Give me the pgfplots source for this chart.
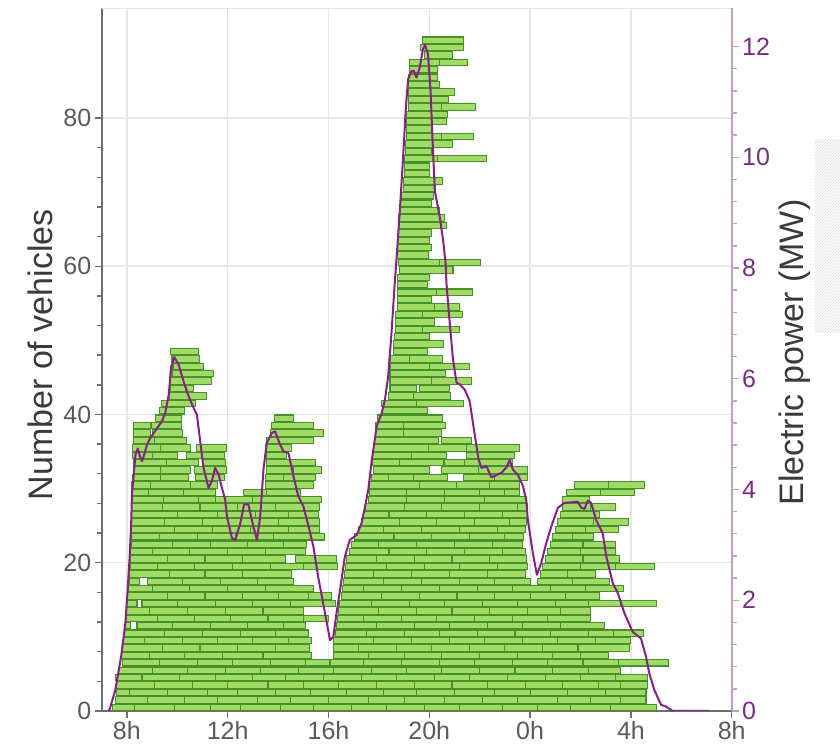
\documentclass[border=0pt]{standalone}
\usepackage{fontspec}
\setmainfont{Liberation Sans}
\usepackage{pgfplots}
\pgfplotsset{compat=1.18}
\usetikzlibrary{patterns}
\definecolor{barfill}{HTML}{A2DA66}
\definecolor{baredge}{HTML}{44922A}
\definecolor{pline}{HTML}{8B1C8B}
\definecolor{raxis}{HTML}{C49CCC}
\definecolor{rlab}{HTML}{7A2B86}
\definecolor{laxis}{HTML}{6E6E6E}
\definecolor{llab}{HTML}{5A5A5A}
\definecolor{gridc}{HTML}{E6E6E6}
\definecolor{titc}{HTML}{3A3A3A}
\pgfdeclareplotmark{emptymark}{}
\begin{document}
\begin{tikzpicture}
\useasboundingbox (-101.7pt,-38pt) rectangle (738.3pt,711pt);
\fill[pattern=north east lines, pattern color=black!15] (713.3pt,378pt) rectangle (738.3pt,571pt);
\begin{axis}[
  at={(0,0)}, anchor=south west,
  scale only axis, width=630pt, height=702.7pt,
  xmin=7, xmax=32, ymin=0, ymax=94.8,
  axis x line*=bottom, axis y line*=left,
  xtick={8,12,16,20,24,28,32},
  xticklabels={8h,12h,16h,20h,0h,4h,8h},
  ytick={0,20,40,60,80}, minor y tick num=4,
  extra y ticks={94.8}, extra y tick labels={},
  extra y tick style={major tick length=0pt, grid=major},
  grid=major, major grid style={gridc, line width=1.5pt},
  tick align=outside, major tick length=7pt, minor tick length=5pt,
  axis line style={laxis, line width=1.7pt},
  tick style={laxis, line width=1.4pt},
  ticklabel style={font=\fontsize{25}{25}\selectfont, text=llab},
  /pgf/number format/assume math mode=true,
  ylabel={Number of vehicles},
  ylabel style={font=\fontsize{34}{34}\selectfont, text=titc,
    at={(axis description cs:-0.098,0.507)}, anchor=center},
]
\addplot[
  scatter, only marks, mark=emptymark, point meta=y,
  visualization depends on={\thisrow{e}-\thisrow{s} \as \barw},
  scatter/@pre marker code/.code={%
    \path[fill=barfill, draw=baredge, line width=1.05pt]
      (axis direction cs:0,0.07) rectangle (axis direction cs:\barw,0.93);
  },
  scatter/@post marker code/.code={},
] table[x=s, y=r, row sep=\\] {
r s e\\
0 7.41 8.3\\0 8.3 9.9\\0 9.9 11.3\\0 11.3 12.5\\0 12.5 14.1\\0 14.1 15.4\\0 15.4 16.9\\0 16.9 18.3\\0 18.3 19.8\\0 19.8 21.2\\0 21.2 22.9\\0 22.9 24.3\\0 24.3 25.6\\0 25.6 27.2\\0 27.2 29.0\\
1 7.54 8.8\\1 8.8 10.3\\1 10.3 11.6\\1 11.6 13.2\\1 13.2 14.5\\1 14.5 16.0\\1 16.0 17.6\\1 17.6 19.0\\1 19.0 20.6\\1 20.6 22.1\\1 22.1 23.5\\1 23.5 25.1\\1 25.1 26.4\\1 26.4 27.6\\1 27.6 28.6\\
2 7.58 8.1\\2 8.1 9.6\\2 9.6 11.2\\2 11.2 12.4\\2 12.4 13.9\\2 13.9 15.3\\2 15.3 16.7\\2 16.7 18.2\\2 18.2 19.5\\2 19.5 21.0\\2 21.0 22.6\\2 22.6 24.0\\2 24.0 25.5\\2 25.5 27.0\\2 27.0 28.6\\
3 7.6 9.1\\3 9.1 10.6\\3 10.6 12.0\\3 12.0 13.6\\3 13.6 15.0\\3 15.0 16.4\\3 16.4 17.9\\3 17.9 19.4\\3 19.4 20.9\\3 20.9 22.3\\3 22.3 23.8\\3 23.8 25.3\\3 25.3 26.7\\3 26.7 27.6\\3 27.6 28.65\\
4 7.54 8.6\\4 8.6 10.1\\4 10.1 11.5\\4 11.5 13.0\\4 13.0 14.3\\4 14.3 15.8\\4 15.8 17.3\\4 17.3 18.7\\4 18.7 20.2\\4 20.2 21.6\\4 21.6 23.1\\4 23.1 24.6\\4 24.6 26.0\\4 26.0 27.4\\4 27.4 28.65\\
5 7.68 9.0\\5 9.0 10.4\\5 10.4 11.9\\5 11.9 13.3\\5 13.3 14.8\\5 14.8 16.2\\5 16.2 17.7\\5 17.7 19.1\\5 19.1 20.5\\5 20.5 22.0\\5 22.0 23.4\\5 23.4 24.9\\5 24.9 26.3\\5 26.3 27.6\\
6 7.81 9.3\\6 9.3 10.8\\6 10.8 12.2\\6 12.2 13.7\\6 13.7 15.1\\6 15.1 16.06\\6 16.06 17.4\\6 17.4 18.9\\6 18.9 20.4\\6 20.4 21.8\\6 21.8 23.3\\6 23.3 24.7\\6 24.7 26.1\\6 26.1 27.5\\6 27.5 29.5\\
7 7.78 8.9\\7 8.9 10.3\\7 10.3 11.8\\7 11.8 13.4\\7 13.4 15.33\\7 16.18 17.6\\7 17.6 19.0\\7 19.0 20.5\\7 20.5 22.0\\7 22.0 23.5\\7 23.5 24.9\\7 24.9 26.0\\7 26.0 27.1\\
8 7.81 9.4\\8 9.4 10.9\\8 10.9 12.4\\8 12.4 13.9\\8 13.9 15.25\\8 16.18 17.2\\8 17.2 18.7\\8 18.7 20.1\\8 20.1 21.6\\8 21.6 23.0\\8 23.0 24.5\\8 24.5 25.9\\8 25.9 27.95\\
9 7.87 8.7\\9 8.7 10.2\\9 10.2 11.6\\9 11.6 13.0\\9 13.0 14.4\\9 14.4 15.33\\9 16.18 17.8\\9 17.8 19.3\\9 19.3 20.8\\9 20.8 22.2\\9 22.2 23.7\\9 23.7 25.1\\9 25.1 26.6\\9 26.6 28.0\\
10 7.9 9.5\\10 9.5 11.0\\10 11.0 12.5\\10 12.5 13.9\\10 13.9 15.2\\10 16.26 17.5\\10 17.5 19.0\\10 19.0 20.4\\10 20.4 21.9\\10 21.9 23.4\\10 23.4 24.8\\10 24.8 26.3\\10 26.3 27.3\\10 27.3 28.5\\
11 7.94 8.15\\11 8.4 9.8\\11 9.8 11.3\\11 11.3 12.8\\11 12.8 14.2\\11 14.2 15.1\\11 16.32 17.9\\11 17.9 19.4\\11 19.4 20.8\\11 20.8 22.3\\11 22.3 23.7\\11 23.7 25.2\\11 25.2 26.95\\
12 7.98 9.2\\12 9.2 10.7\\12 10.7 12.1\\12 12.1 13.6\\12 13.6 15.0\\12 15.0 16.0\\12 16.36 17.4\\12 17.4 18.9\\12 18.9 20.3\\12 20.3 21.8\\12 21.8 23.3\\12 23.3 24.7\\12 24.7 26.4\\
13 8.0 8.9\\13 8.9 10.4\\13 10.4 11.9\\13 11.9 13.4\\13 13.4 14.99\\13 16.4 18.0\\13 18.0 19.5\\13 19.5 20.9\\13 20.9 22.4\\13 22.4 23.9\\13 23.9 25.2\\13 25.2 26.4\\
14 8.0 8.4\\14 8.6 10.0\\14 10.0 11.5\\14 11.5 13.0\\14 13.0 14.5\\14 14.5 16.26\\14 16.45 17.7\\14 17.7 19.2\\14 19.2 20.6\\14 20.6 22.1\\14 22.1 23.5\\14 23.5 25.0\\14 25.0 26.3\\14 26.3 27.6\\14 27.6 29.0\\
15 8.02 9.6\\15 9.6 11.1\\15 11.1 12.6\\15 12.6 14.0\\15 14.0 15.2\\15 15.2 16.13\\15 16.52 18.1\\15 18.1 19.6\\15 19.6 21.1\\15 21.1 22.6\\15 22.6 24.0\\15 24.0 25.4\\15 25.4 26.75\\
16 8.07 9.0\\16 9.0 10.5\\16 10.5 12.0\\16 12.0 13.5\\16 13.5 15.39\\16 16.56 17.4\\16 17.4 18.9\\16 18.9 20.4\\16 20.4 21.9\\16 21.9 23.3\\16 23.3 24.8\\16 24.8 26.2\\16 26.2 27.7\\
17 8.1 8.5\\17 8.8 10.2\\17 10.2 11.7\\17 11.7 13.2\\17 13.2 14.6\\17 16.6 18.2\\17 18.2 19.7\\17 19.7 21.2\\17 21.2 22.6\\17 22.6 24.0\\17 24.3 25.7\\17 25.7 27.15\\
18 8.12 9.7\\18 9.7 11.1\\18 11.1 12.6\\18 12.6 14.54\\18 16.65 17.8\\18 17.8 19.3\\18 19.3 20.8\\18 20.8 22.3\\18 22.3 23.8\\18 24.4 25.5\\18 25.5 26.6\\
19 8.14 9.2\\19 9.2 10.7\\19 10.7 12.2\\19 12.2 13.7\\19 13.7 15.0\\19 15.0 16.37\\19 16.69 18.3\\19 18.3 19.8\\19 19.8 21.2\\19 21.2 22.7\\19 22.7 23.9\\19 24.5 26.0\\19 26.0 27.4\\19 27.4 28.95\\
20 8.15 9.6\\20 9.6 11.1\\20 11.1 12.6\\20 12.6 14.3\\20 14.7 16.3\\20 16.72 17.9\\20 17.9 19.4\\20 19.4 20.9\\20 20.9 22.4\\20 22.4 23.85\\20 24.6 26.1\\20 26.1 27.55\\
21 8.16 9.0\\21 9.0 10.5\\21 10.5 12.0\\21 12.0 13.5\\21 13.5 15.07\\21 16.85 18.4\\21 18.4 19.9\\21 19.9 21.4\\21 21.4 22.9\\21 22.9 23.8\\21 24.7 26.0\\21 26.0 27.4\\
22 8.17 9.8\\22 9.8 11.3\\22 11.3 12.8\\22 12.8 14.2\\22 14.2 15.14\\22 16.92 18.0\\22 18.0 19.5\\22 19.5 21.0\\22 21.0 22.5\\22 22.5 23.7\\22 24.8 26.1\\22 26.1 27.4\\
23 8.18 9.3\\23 9.3 10.8\\23 10.8 12.3\\23 12.3 13.8\\23 13.8 15.86\\23 17.05 18.6\\23 18.6 20.1\\23 20.1 21.6\\23 21.6 23.0\\23 23.0 23.75\\23 24.9 25.7\\23 25.7 26.5\\
24 8.19 9.9\\24 9.9 11.4\\24 11.4 12.9\\24 12.9 14.4\\24 14.4 15.66\\24 17.18 18.2\\24 18.2 19.7\\24 19.7 21.2\\24 21.2 22.7\\24 22.7 23.8\\24 25.0 26.2\\24 26.2 27.5\\
25 8.2 9.5\\25 9.5 11.0\\25 11.0 12.5\\25 12.5 14.0\\25 14.0 15.66\\25 17.31 18.8\\25 18.8 20.3\\25 20.3 21.8\\25 21.8 23.2\\25 23.2 23.85\\25 25.1 26.5\\25 26.5 27.9\\
26 8.2 10.0\\26 10.0 11.6\\26 11.6 13.1\\26 13.1 14.4\\26 14.4 15.6\\26 17.38 18.4\\26 18.4 19.9\\26 19.9 21.4\\26 21.4 22.9\\26 22.9 23.9\\26 25.2 26.75\\
27 8.2 9.4\\27 9.4 10.9\\27 10.9 12.4\\27 12.4 13.9\\27 13.9 15.66\\27 17.45 19.0\\27 19.0 20.5\\27 20.5 22.0\\27 22.0 23.5\\27 23.5 23.9\\27 25.3 26.4\\27 26.4 27.4\\
28 8.2 9.46\\28 9.46 10.84\\28 10.84 11.5\\28 11.5 13.0\\28 13.0 15.72\\28 17.58 19.1\\28 19.1 20.6\\28 20.6 22.2\\28 22.2 23.85\\28 25.29 26.36\\
29 8.2 8.86\\29 8.86 10.25\\29 10.25 11.5\\29 12.63 13.55\\29 13.55 14.87\\29 17.64 19.1\\29 19.1 20.6\\29 20.6 22.0\\29 22.0 22.99\\29 22.99 23.58\\29 25.43 26.8\\29 26.8 28.14\\
30 8.2 8.93\\30 8.93 10.51\\30 10.51 11.6\\30 13.49 15.4\\30 17.64 19.62\\30 19.62 21.08\\30 21.08 22.4\\30 22.4 23.58\\30 25.76 27.1\\30 27.1 28.53\\
31 8.22 9.33\\31 9.33 10.45\\31 10.74 11.86\\31 13.49 14.2\\31 14.2 15.5\\31 17.71 18.37\\31 18.37 19.36\\31 19.36 20.74\\31 21.34 22.6\\31 22.6 23.91\\
32 8.27 9.33\\32 9.33 10.51\\32 10.7 11.97\\32 13.55 14.6\\32 14.6 15.73\\32 17.77 20.02\\32 20.48 21.97\\32 21.97 23.91\\
33 8.27 9.56\\33 9.56 10.84\\33 11.0 11.9\\33 13.55 14.5\\33 14.5 15.48\\33 17.75 18.83\\33 18.83 20.55\\33 20.61 21.41\\33 21.41 23.29\\
34 8.24 9.0\\34 9.0 9.99\\34 10.38 11.86\\34 13.55 14.34\\34 17.75 19.29\\34 19.29 20.68\\34 21.47 23.39\\
35 8.24 9.33\\35 9.33 10.54\\35 10.78 11.97\\35 13.49 14.54\\35 17.77 19.95\\35 19.95 21.47\\35 21.47 23.58\\
36 8.27 9.1\\36 9.1 10.35\\36 13.55 15.4\\36 17.84 20.35\\36 20.48 21.67\\
37 8.27 8.93\\37 9.0 10.22\\37 13.68 15.79\\37 17.88 18.99\\37 18.99 20.48\\
38 8.27 8.93\\38 8.96 10.18\\38 13.75 15.4\\38 17.88 18.99\\38 18.99 20.65\\
39 9.13 10.18\\39 13.84 14.61\\39 17.93 20.52\\
40 9.3 10.28\\40 18.15 19.91\\
41 9.39 10.71\\41 18.11 19.5\\41 19.5 21.34\\
42 9.7 11.15\\42 18.37 19.39\\42 19.39 20.84\\
43 9.72 10.64\\43 18.44 19.49\\43 19.62 20.81\\
44 9.72 11.37\\44 18.44 20.1\\44 20.1 21.67\\
45 9.79 11.44\\45 18.44 20.65\\
46 9.83 11.04\\46 18.44 20.0\\46 20.0 21.58\\
47 9.79 10.88\\47 18.44 19.2\\47 19.2 20.52\\
48 9.72 10.84\\48 18.59 19.91\\
49 18.59 20.55\\
50 18.63 20.02\\
51 18.67 19.73\\51 19.73 21.21\\
52 18.67 20.22\\
53 18.67 19.73\\53 19.73 21.31\\
54 18.72 20.2\\54 20.2 21.18\\
55 18.72 20.09\\
56 18.72 20.3\\56 20.3 21.73\\
57 18.72 19.91\\
58 18.72 20.02\\
59 18.80 20.94\\
60 18.76 20.4\\60 20.4 22.04\\
61 18.70 19.95\\
62 18.72 20.09\\
63 18.72 20.02\\
64 18.76 20.09\\
65 18.76 20.68\\
66 18.76 20.61\\
67 18.83 20.42\\
68 18.86 20.09\\
69 18.90 20.15\\
70 18.96 20.26\\
71 18.96 20.52\\
72 19.03 20.02\\
73 19.03 20.02\\
74 19.03 20.31\\74 20.31 22.27\\
75 19.07 20.09\\
76 19.07 20.92\\
77 19.10 20.5\\77 20.5 21.76\\
78 19.10 20.09\\
79 19.10 20.68\\
80 19.10 20.74\\
81 19.16 20.5\\81 20.5 21.84\\
82 19.16 20.78\\
83 19.16 21.01\\
84 19.16 20.42\\
85 19.16 20.31\\
86 19.23 20.31\\
87 19.23 20.4\\87 20.4 21.50\\
88 19.82 20.92\\
89 19.66 21.34\\
90 19.73 21.37\\
};
\end{axis}
\begin{axis}[
  at={(0,0)}, anchor=south west,
  scale only axis, width=630pt, height=702.7pt,
  xmin=7, xmax=32, ymin=0, ymax=12.69,
  axis x line=none, axis y line*=right,
  ytick={0,2,4,6,8,10,12}, minor y tick num=4,
  tick align=outside, major tick length=7pt, minor tick length=5pt,
  axis line style={raxis, line width=1.7pt},
  tick style={raxis, line width=1.4pt},
  ticklabel style={font=\fontsize{25}{25}\selectfont, text=rlab},
  /pgf/number format/assume math mode=true,
  ylabel={Electric power (MW)},
  ylabel style={font=\fontsize{34}{34}\selectfont, text=titc,
    at={(axis description cs:1.1005,0.51)}, anchor=center},
]
\addplot[pline, line width=2pt, line join=round] coordinates {
(7.25,0) (7.31,0.02) (7.54,0.38) (7.77,0.98) (7.94,1.59) (8.03,2.19) (8.11,2.79) (8.17,3.39) (8.2,3.9)
(8.27,4.27) (8.34,4.63) (8.43,4.74) (8.52,4.6) (8.6,4.51) (8.7,4.65) (8.8,4.81) (8.93,4.93) (9.2,5.11)
(9.39,5.23) (9.52,5.38) (9.66,5.71) (9.75,6.2) (9.88,6.39) (10.05,6.26) (10.25,5.95) (10.45,5.68)
(10.65,5.47) (10.78,5.35) (10.91,4.87) (11.04,4.39) (11.24,4.03) (11.37,4.15) (11.5,4.39) (11.64,4.27)
(11.77,4.03) (11.9,3.82) (11.97,3.51) (12.17,3.12) (12.3,3.09) (12.5,3.39) (12.65,3.73) (12.82,3.73)
(13.02,3.33) (13.16,3.09) (13.29,3.51) (13.42,4.36) (13.55,4.84) (13.75,5.02) (13.88,5.05) (14.08,4.81)
(14.21,4.69) (14.41,4.66) (14.61,4.24) (14.8,3.88) (15.0,3.7) (15.2,3.35) (15.4,2.97) (15.6,2.4)
(15.86,1.77) (16.06,1.28) (16.19,1.34) (16.32,1.77) (16.46,2.19) (16.65,2.79) (16.85,3.09) (17.12,3.18)
(17.31,3.39) (17.45,3.69) (17.58,4.0) (17.71,4.5) (17.91,5.14) (18.11,5.38) (18.24,5.62) (18.37,6.05)
(18.5,6.83) (18.63,7.73) (18.72,8.3) (18.83,9.03) (18.96,9.99) (19.07,10.9) (19.16,11.41) (19.3,11.56)
(19.39,11.56) (19.49,11.44) (19.62,11.62) (19.75,11.95) (19.83,12.03) (19.95,11.86) (20.05,11.2)
(20.13,10.29) (20.22,9.39) (20.42,8.91) (20.55,8.49) (20.65,8.07) (20.68,7.73) (20.81,7.01) (20.94,6.35)
(21.08,5.93) (21.21,5.9) (21.41,5.8) (21.6,5.6) (21.8,5.0) (21.95,4.55) (22.07,4.39) (22.27,4.42)
(22.46,4.22) (22.66,4.26) (22.86,4.3) (23.06,4.4) (23.19,4.53) (23.32,4.36) (23.52,4.26) (23.72,4.06)
(23.85,3.8) (23.91,3.45) (24.11,2.85) (24.27,2.46) (24.44,2.67) (24.64,3.03) (24.84,3.33) (25.1,3.67)
(25.37,3.76) (25.7,3.77) (25.89,3.78) (26.03,3.67) (26.16,3.65) (26.29,3.8) (26.42,3.76) (26.62,3.45)
(26.88,3.21) (27.02,2.8) (27.28,2.31) (27.48,2.13) (27.74,1.77) (28.07,1.43) (28.4,1.31) (28.6,0.98)
(28.73,0.68) (28.93,0.38) (29.2,0.11) (29.4,0.08) (29.66,0) (31.1,0)
};
\end{axis}
\end{tikzpicture}
\end{document}
